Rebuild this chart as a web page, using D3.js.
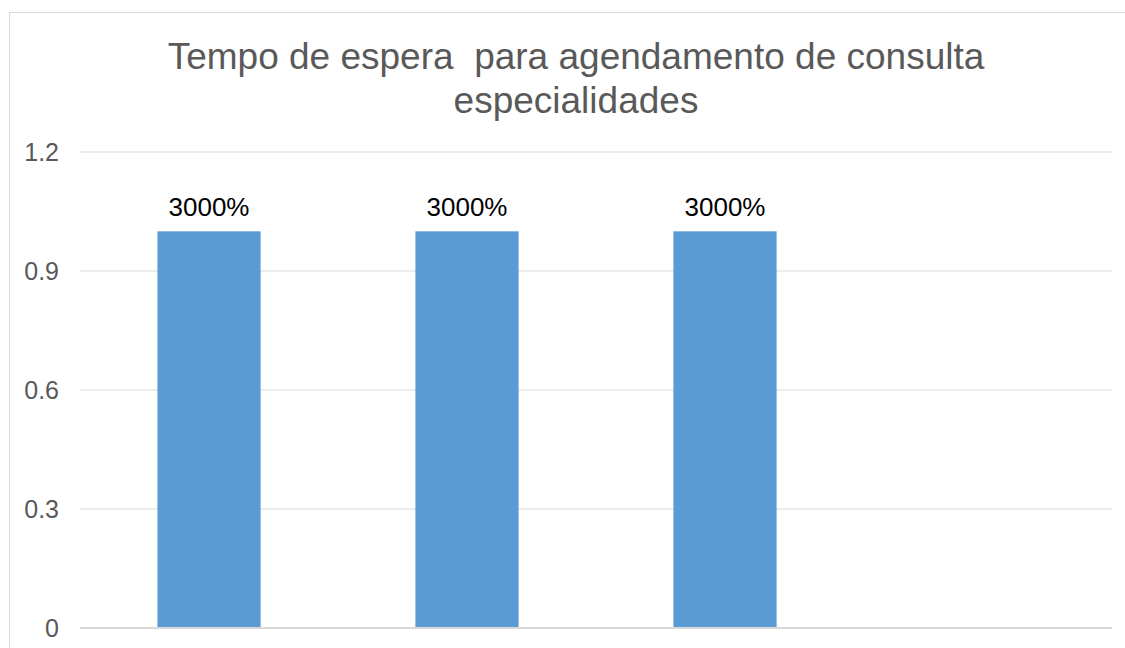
<!DOCTYPE html>
<html><head><meta charset="utf-8">
<script src="https://cdn.jsdelivr.net/npm/d3@7"></script>
<style>body{margin:0;background:#fff}svg{display:block;font-family:"Liberation Sans",Arial,sans-serif}</style>
</head><body><svg id="c" width="1125" height="648"></svg>
<script>
const categories = ["Categoria 1", "Categoria 2", "Categoria 3", "Categoria 4"];
const values = [1, 1, 1, null];
const valueLabels = ["3000%", "3000%", "3000%", ""];
const yTicks = [0, 0.3, 0.6, 0.9, 1.2];
const titleLines = ["Tempo de espera  para agendamento de consulta", "especialidades"];

const svg = d3.select("#c");
svg.append("rect").attr("x", 9.5).attr("y", 12.5).attr("width", 1130).attr("height", 660)
  .attr("fill", "#fff").attr("stroke", "#D9D9D9").attr("stroke-width", 1);

const x = d3.scaleBand().domain(categories).range([80, 1112]).paddingInner(0.6).paddingOuter(0.3);
const y = d3.scaleLinear().domain([0, 1.2]).range([628, 152]);

svg.append("g").selectAll("line").data(yTicks).join("line")
  .attr("x1", 80).attr("x2", 1112).attr("y1", d => y(d)).attr("y2", d => y(d))
  .attr("stroke", "#D9D9D9").attr("stroke-width", d => d === 0 ? 2 : 1);

const yAxis = d3.axisLeft(y).tickValues(yTicks).tickFormat(d => d === 0 ? "0" : d3.format(".1f")(d)).tickSize(0).tickPadding(21);
const ga = svg.append("g").attr("transform", "translate(80,0)").call(yAxis);
ga.select(".domain").remove();
ga.selectAll(".tick text").attr("fill", "#595959").style("font-size", "25px").attr("dy", "0.35em");

const data = categories.map((c, i) => ({c, v: values[i], l: valueLabels[i]})).filter(d => d.v != null);
svg.append("g").selectAll("rect").data(data).join("rect")
  .attr("x", d => x(d.c)).attr("width", x.bandwidth())
  .attr("y", d => y(d.v)).attr("height", d => y(0) - y(d.v) - 1)
  .attr("fill", "#5B9BD5");

svg.append("g").selectAll("text").data(data).join("text")
  .attr("x", d => x(d.c) + x.bandwidth() / 2).attr("y", d => y(d.v) - 15)
  .attr("text-anchor", "middle").attr("fill", "#000").style("font-size", "26px")
  .text(d => d.l);

svg.append("g").selectAll("text").data(titleLines).join("text")
  .attr("x", 576).attr("y", (d, i) => 69 + i * 44)
  .attr("text-anchor", "middle").attr("fill", "#595959").style("font-size", "37px")
  .attr("xml:space", "preserve").style("white-space", "pre")
  .text(d => d);
</script></body></html>
